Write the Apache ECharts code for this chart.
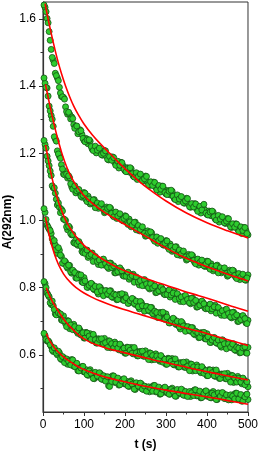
<!DOCTYPE html>
<html>
<head>
<meta charset="utf-8">
<script src="https://cdn.jsdelivr.net/npm/echarts@6/dist/echarts.min.js"></script>
<style>html,body{margin:0;padding:0;background:#fff}#c{width:261px;height:456px}</style>
</head>
<body>
<div id="c"></div>
<script>
const tPoints = [5,10,15,20,25,30,35,40,45,50,55,60,65,70,75,80,85,90,95,100,
105,110,115,120,125,130,135,140,145,150,155,160,165,170,175,180,185,190,195,200,
205,210,215,220,225,230,235,240,245,250,255,260,265,270,275,280,285,290,295,300,
305,310,315,320,325,330,335,340,345,350,355,360,365,370,375,380,385,390,395,400,
405,410,415,420,425,430,435,440,445,450,455,460,465,470,475,480,485,490,495,500];

const tPointsB = [2.5,7.5,12.5,17.5,22.5,27.5,32.5,37.5,42.5,47.5,52.5,57.5,62.5,67.5,72.5,77.5,82.5,87.5,92.5,97.5,
102.5,107.5,112.5,117.5,122.5,127.5,132.5,137.5,142.5,147.5,152.5,157.5,162.5,167.5,172.5,177.5,182.5,187.5,192.5,197.5,
202.5,207.5,212.5,217.5,222.5,227.5,232.5,237.5,242.5,247.5,252.5,257.5,262.5,267.5,272.5,277.5,282.5,287.5,292.5,297.5,
302.5,307.5,312.5,317.5,322.5,327.5,332.5,337.5,342.5,347.5,352.5,357.5,362.5,367.5,372.5,377.5,382.5,387.5,392.5,397.5,
402.5,407.5,412.5,417.5,422.5,427.5,432.5,437.5,442.5,447.5,452.5,457.5,462.5,467.5,472.5,477.5,482.5,487.5,492.5,497.5];

const pts1 = [1.634,1.601,1.562,1.509,1.477,1.438,1.424,1.396,1.369,1.366,1.338,1.316,1.316,1.308,1.285,1.280,1.258,1.270,1.256,1.238,
1.244,1.228,1.236,1.212,1.218,1.201,1.215,1.205,1.194,1.208,1.191,1.180,1.189,1.189,1.172,1.172,1.156,1.173,1.163,1.148,
1.157,1.144,1.154,1.132,1.139,1.122,1.137,1.128,1.117,1.132,1.115,1.104,1.114,1.114,1.098,1.100,1.084,1.102,1.093,1.079,
1.089,1.076,1.087,1.065,1.072,1.056,1.070,1.061,1.051,1.066,1.049,1.039,1.049,1.050,1.034,1.037,1.022,1.040,1.031,1.018,
1.028,1.014,1.025,1.004,1.011,0.995,1.010,1.001,0.991,1.006,0.989,0.979,0.989,0.990,0.974,0.976,0.961,0.979,0.970,0.957];
const pts1b = [1.641,1.621,1.588,1.536,1.485,1.467,1.431,1.416,1.379,1.368,1.361,1.324,1.322,1.302,1.303,1.274,1.281,1.264,1.267,1.244,
1.234,1.240,1.240,1.220,1.208,1.221,1.209,1.215,1.196,1.200,1.207,1.182,1.190,1.179,1.187,1.164,1.176,1.164,1.172,1.153,
1.145,1.155,1.157,1.139,1.129,1.142,1.131,1.138,1.119,1.124,1.131,1.106,1.115,1.104,1.113,1.091,1.104,1.093,1.102,1.083,
1.077,1.087,1.090,1.072,1.062,1.076,1.064,1.071,1.053,1.058,1.065,1.041,1.050,1.040,1.049,1.027,1.042,1.031,1.048,1.022,
1.016,1.025,1.028,1.011,1.001,1.015,1.004,1.011,0.993,0.998,1.005,0.981,0.990,0.980,0.989,0.967,0.981,0.970,0.979,0.961];

const pts2 = [1.408,1.394,1.340,1.312,1.280,1.242,1.207,1.191,1.166,1.138,1.146,1.126,1.127,1.100,1.103,1.082,1.091,1.082,1.069,1.083,
1.062,1.072,1.049,1.058,1.062,1.044,1.036,1.047,1.039,1.023,1.040,1.028,1.036,1.015,1.023,1.006,1.017,1.011,0.999,1.014,
0.993,1.004,0.981,0.991,0.995,0.978,0.969,0.979,0.970,0.953,0.969,0.956,0.963,0.943,0.950,0.932,0.944,0.937,0.926,0.940,
0.920,0.930,0.908,0.917,0.922,0.904,0.896,0.906,0.898,0.882,0.899,0.887,0.895,0.875,0.883,0.867,0.879,0.874,0.863,0.879,
0.860,0.871,0.850,0.861,0.867,0.851,0.844,0.856,0.849,0.834,0.852,0.841,0.850,0.831,0.840,0.824,0.837,0.832,0.822,0.838];
const pts2b = [1.424,1.396,1.370,1.326,1.301,1.249,1.236,1.198,1.185,1.153,1.136,1.138,1.133,1.109,1.093,1.103,1.088,1.092,1.072,1.075,
1.081,1.056,1.064,1.053,1.061,1.038,1.052,1.041,1.050,1.032,1.026,1.036,1.039,1.021,1.011,1.025,1.013,1.020,1.001,1.006,
1.012,0.988,0.996,0.986,0.994,0.972,0.985,0.973,0.981,0.962,0.955,0.964,0.966,0.949,0.938,0.951,0.940,0.946,0.928,0.932,
0.939,0.914,0.923,0.912,0.921,0.898,0.912,0.900,0.909,0.891,0.885,0.895,0.898,0.881,0.871,0.885,0.875,0.882,0.865,0.870,
0.878,0.855,0.864,0.855,0.865,0.844,0.859,0.849,0.859,0.842,0.837,0.848,0.852,0.836,0.827,0.842,0.832,0.840,0.823,0.829];

const pts3 = [1.226,1.191,1.163,1.134,1.097,1.081,1.046,1.039,1.033,1.004,1.000,0.972,0.979,0.957,0.934,0.942,0.926,0.930,0.908,0.912,
0.906,0.890,0.902,0.903,0.881,0.887,0.869,0.876,0.883,0.867,0.874,0.857,0.873,0.860,0.844,0.857,0.846,0.854,0.836,0.843,
0.839,0.825,0.838,0.840,0.819,0.826,0.808,0.815,0.822,0.806,0.813,0.796,0.812,0.800,0.785,0.800,0.789,0.798,0.781,0.789,
0.786,0.772,0.786,0.789,0.769,0.777,0.759,0.767,0.775,0.760,0.768,0.752,0.769,0.757,0.742,0.757,0.747,0.756,0.739,0.747,
0.744,0.731,0.745,0.748,0.728,0.735,0.718,0.726,0.734,0.718,0.726,0.710,0.727,0.714,0.699,0.714,0.704,0.712,0.695,0.703];
const pts3b = [1.238,1.215,1.177,1.147,1.103,1.097,1.063,1.052,1.023,1.028,1.003,0.981,0.983,0.961,0.958,0.932,0.930,0.937,0.924,0.904,
0.902,0.912,0.895,0.899,0.878,0.893,0.878,0.882,0.867,0.885,0.872,0.861,0.873,0.860,0.865,0.844,0.848,0.859,0.850,0.834,
0.834,0.846,0.831,0.836,0.816,0.832,0.817,0.821,0.806,0.824,0.811,0.800,0.812,0.799,0.805,0.786,0.791,0.802,0.794,0.779,
0.780,0.793,0.778,0.784,0.765,0.782,0.768,0.772,0.758,0.777,0.765,0.755,0.768,0.756,0.762,0.743,0.748,0.760,0.752,0.737,
0.738,0.751,0.737,0.743,0.724,0.741,0.726,0.731,0.717,0.736,0.723,0.713,0.726,0.714,0.719,0.700,0.705,0.717,0.708,0.693];

const pts4 = [1.024,0.986,0.974,0.961,0.935,0.927,0.902,0.911,0.893,0.872,0.876,0.858,0.866,0.843,0.848,0.829,0.841,0.829,0.817,0.830,
0.812,0.801,0.810,0.810,0.794,0.796,0.781,0.800,0.792,0.780,0.791,0.779,0.791,0.771,0.779,0.764,0.780,0.772,0.763,0.779,
0.763,0.754,0.764,0.766,0.750,0.752,0.737,0.755,0.746,0.733,0.743,0.730,0.741,0.720,0.727,0.711,0.726,0.717,0.707,0.722,
0.705,0.695,0.705,0.706,0.690,0.692,0.677,0.695,0.686,0.673,0.683,0.670,0.681,0.660,0.667,0.651,0.666,0.657,0.648,0.663,
0.647,0.637,0.648,0.649,0.634,0.637,0.623,0.642,0.634,0.622,0.633,0.621,0.633,0.613,0.621,0.606,0.622,0.614,0.606,0.622];
const pts4b = [1.035,1.003,0.980,0.970,0.945,0.940,0.913,0.919,0.897,0.873,0.880,0.863,0.867,0.847,0.852,0.845,0.828,0.838,0.838,0.815,
0.820,0.801,0.807,0.813,0.797,0.804,0.787,0.803,0.791,0.776,0.791,0.781,0.790,0.773,0.781,0.778,0.765,0.779,0.782,0.762,
0.770,0.753,0.761,0.768,0.753,0.760,0.743,0.759,0.746,0.730,0.744,0.733,0.741,0.723,0.730,0.726,0.712,0.725,0.727,0.706,
0.713,0.695,0.702,0.709,0.693,0.700,0.683,0.699,0.686,0.670,0.684,0.673,0.681,0.663,0.670,0.666,0.652,0.665,0.667,0.647,
0.654,0.637,0.644,0.652,0.636,0.644,0.628,0.645,0.633,0.618,0.633,0.623,0.632,0.615,0.623,0.620,0.607,0.621,0.624,0.605];

const pts5 = [0.812,0.784,0.773,0.750,0.746,0.722,0.729,0.719,0.704,0.716,0.693,0.702,0.678,0.687,0.691,0.673,0.664,0.674,0.666,0.650,
0.667,0.655,0.663,0.643,0.652,0.635,0.648,0.643,0.633,0.649,0.630,0.642,0.621,0.632,0.638,0.622,0.615,0.627,0.620,0.605,
0.623,0.613,0.622,0.603,0.613,0.597,0.610,0.606,0.596,0.612,0.594,0.606,0.585,0.597,0.603,0.587,0.581,0.593,0.586,0.572,
0.590,0.579,0.589,0.570,0.579,0.564,0.577,0.572,0.563,0.579,0.560,0.573,0.552,0.563,0.570,0.554,0.547,0.560,0.553,0.538,
0.556,0.546,0.555,0.536,0.546,0.530,0.543,0.539,0.529,0.545,0.527,0.539,0.518,0.530,0.536,0.520,0.514,0.526,0.519,0.505];
const pts5b = [0.818,0.800,0.778,0.755,0.760,0.735,0.719,0.725,0.722,0.702,0.701,0.684,0.700,0.689,0.675,0.684,0.670,0.680,0.659,0.666,
0.650,0.665,0.656,0.646,0.661,0.645,0.635,0.646,0.648,0.633,0.636,0.622,0.641,0.633,0.621,0.632,0.620,0.632,0.612,0.620,
0.605,0.622,0.614,0.605,0.622,0.606,0.597,0.609,0.611,0.596,0.600,0.586,0.605,0.598,0.586,0.597,0.586,0.598,0.578,0.587,
0.572,0.588,0.581,0.572,0.588,0.573,0.564,0.575,0.578,0.563,0.566,0.553,0.572,0.564,0.553,0.564,0.552,0.565,0.545,0.553,
0.538,0.555,0.547,0.538,0.555,0.539,0.530,0.542,0.544,0.529,0.533,0.519,0.538,0.531,0.519,0.530,0.519,0.531,0.511,0.520];

const pts6 = [0.658,0.641,0.638,0.625,0.610,0.614,0.600,0.606,0.586,0.592,0.587,0.572,0.584,0.586,0.566,0.572,0.553,0.559,0.565,0.549,
0.556,0.539,0.556,0.544,0.529,0.544,0.534,0.544,0.527,0.536,0.533,0.508,0.534,0.538,0.518,0.527,0.510,0.519,0.527,0.513,
0.521,0.506,0.523,0.512,0.497,0.513,0.504,0.513,0.497,0.505,0.503,0.490,0.505,0.509,0.490,0.499,0.483,0.493,0.502,0.488,
0.497,0.483,0.501,0.490,0.477,0.493,0.485,0.495,0.480,0.489,0.488,0.476,0.492,0.496,0.478,0.487,0.472,0.481,0.491,0.477,
0.487,0.472,0.491,0.480,0.467,0.483,0.475,0.485,0.470,0.479,0.478,0.466,0.482,0.486,0.468,0.477,0.462,0.471,0.481,0.467];
const pts6b = [0.664,0.646,0.642,0.630,0.614,0.621,0.605,0.611,0.589,0.595,0.577,0.588,0.581,0.570,0.585,0.565,0.575,0.552,0.561,0.566,
0.549,0.541,0.552,0.545,0.530,0.548,0.537,0.547,0.528,0.538,0.522,0.535,0.506,0.521,0.537,0.519,0.531,0.511,0.522,0.529,
0.513,0.507,0.519,0.513,0.498,0.517,0.507,0.516,0.498,0.507,0.492,0.505,0.501,0.492,0.509,0.491,0.504,0.484,0.497,0.504,
0.489,0.483,0.497,0.491,0.477,0.497,0.487,0.498,0.480,0.491,0.476,0.491,0.487,0.479,0.496,0.479,0.492,0.473,0.485,0.493,
0.478,0.473,0.486,0.481,0.467,0.487,0.477,0.488,0.470,0.481,0.466,0.481,0.477,0.469,0.486,0.469,0.482,0.463,0.475,0.483];

const fitT1 = [5,15,25,35,45,55,65,75,85,100,120,140,160,180,200,230,260,300,350,400,450,500];
const fit1 = [1.645,1.585,1.530,1.480,1.437,1.400,1.368,1.340,1.317,1.287,1.255,1.228,1.203,1.178,1.154,1.121,1.092,1.058,1.022,0.993,0.969,0.948];
const fitT2 = [6,10,15,20,25,30,35,40,45,50,55,65,80,100,125,150,180,210,240,270,300,340,380,420,460,500];
const fit2 = [1.405,1.381,1.352,1.324,1.297,1.271,1.247,1.225,1.204,1.185,1.168,1.139,1.106,1.074,1.046,1.024,1.002,0.981,0.960,0.939,0.918,0.893,0.872,0.853,0.836,0.820];
const fitT3 = [6,10,15,20,25,30,35,40,50,60,70,80,100,120,140,160,180,210,240,270,300,340,380,420,460,500];
const fit3 = [1.225,1.200,1.168,1.138,1.111,1.087,1.066,1.047,1.015,0.990,0.970,0.953,0.926,0.906,0.889,0.874,0.861,0.845,0.832,0.819,0.807,0.791,0.776,0.761,0.745,0.730];
const fitT4 = [6,10,15,20,25,30,35,40,50,60,70,80,100,120,140,170,200,230,260,300,340,380,420,460,500];
const fit4 = [1.010,0.985,0.957,0.932,0.911,0.893,0.877,0.863,0.841,0.825,0.812,0.801,0.784,0.771,0.760,0.746,0.734,0.723,0.712,0.697,0.683,0.670,0.656,0.642,0.628];
const fitT5 = [8,15,20,25,30,40,50,60,75,90,110,130,155,180,210,240,270,300,340,380,420,460,500];
const fit5 = [0.800,0.778,0.765,0.754,0.744,0.725,0.707,0.692,0.673,0.656,0.641,0.630,0.620,0.612,0.603,0.594,0.585,0.577,0.566,0.555,0.545,0.535,0.525];
const fitT6 = [8,15,20,30,40,50,60,75,90,110,130,155,180,210,240,270,300,340,380,420,460,500];
const fit6 = [0.663,0.645,0.635,0.618,0.605,0.594,0.585,0.573,0.562,0.551,0.542,0.533,0.525,0.517,0.509,0.502,0.495,0.487,0.479,0.471,0.462,0.453];

const xTicks = [0,100,200,300,400,500];
const yMajor = [0.6,0.8,1.0,1.2,1.4,1.6];
const yMinor = [0.5,0.7,0.9,1.1,1.3,1.5];

const FONT = 'Liberation Sans, Arial, sans-serif';
const ptsAll = [[tPoints,pts1],[tPointsB,pts1b],[tPoints,pts2],[tPointsB,pts2b],[tPoints,pts3],[tPointsB,pts3b],
  [tPoints,pts4],[tPointsB,pts4b],[tPoints,pts5],[tPointsB,pts5b],[tPoints,pts6],[tPointsB,pts6b]];
const fitsAll = [[fitT1,fit1],[fitT2,fit2],[fitT3,fit3],[fitT4,fit4],[fitT5,fit5],[fitT6,fit6]];

const series = [];
ptsAll.forEach(p => {
  series.push({
    type: 'scatter', xAxisIndex: 0, yAxisIndex: 0,
    symbol: 'circle', symbolSize: 6,
    itemStyle: {color: '#2ecc2e', borderColor: '#145014', borderWidth: 0.8, opacity: 1},
    data: p[0].map((t, i) => [t, p[1][i]]),
    z: 2
  });
});
fitsAll.forEach(f => {
  series.push({
    type: 'line', xAxisIndex: 0, yAxisIndex: 0,
    smooth: 0.4, showSymbol: false, symbol: 'none',
    lineStyle: {color: '#ff0000', width: 1.6},
    data: f[0].map((t, i) => [t, f[1][i]]),
    z: 3
  });
});

const chart = echarts.init(document.getElementById('c'), null, {renderer: 'canvas'});
chart.setOption({
  animation: false,
  backgroundColor: '#fff',
  grid: {left: 43, right: 12, top: 2, bottom: 40, show: true, borderColor: '#333', borderWidth: 1, backgroundColor: 'transparent'},
  xAxis: {
    type: 'value', min: 0, max: 500, interval: 100,
    axisLine: {show: true, lineStyle: {color: '#333', width: 1.2}},
    axisTick: {show: true, inside: false, length: 4, lineStyle: {color: '#333'}, customValues: xTicks},
    minorTick: {show: true, splitNumber: 2, length: 2.5, lineStyle: {color: '#333'}},
    splitLine: {show: false},
    axisLabel: {fontSize: 12, color: '#000', margin: 7, fontFamily: FONT, customValues: xTicks},
    name: 't (s)', nameLocation: 'middle', nameGap: 27,
    nameTextStyle: {fontWeight: 'bold', fontSize: 12, color: '#000', fontFamily: FONT}
  },
  yAxis: [{
    type: 'value', min: 0.43, max: 1.65, position: 'left', offset: 0,
    axisLine: {show: true, lineStyle: {color: '#333', width: 1.2}},
    axisTick: {show: true, inside: false, length: 4, lineStyle: {color: '#333'}, customValues: yMajor},
    splitLine: {show: false},
    axisLabel: {fontSize: 12, color: '#000', margin: 7, fontFamily: FONT, customValues: yMajor,
      formatter: v => Number(v).toFixed(1)}
  }, {
    type: 'value', min: 0.43, max: 1.65, position: 'left', offset: 0,
    axisLine: {show: false},
    axisTick: {show: true, inside: false, length: 2.5, lineStyle: {color: '#333'}, customValues: yMinor},
    splitLine: {show: false},
    axisLabel: {show: false}
  }],
  graphic: [{
    type: 'text', x: 8, y: 222, rotation: Math.PI / 2,
    style: {text: 'A(292nm)', fontSize: 12, fontWeight: 'bold', fontFamily: FONT, fill: '#000',
      align: 'center', verticalAlign: 'middle', textAlign: 'center', textVerticalAlign: 'middle'}
  }],
  series: series
});
</script>
</body>
</html>
